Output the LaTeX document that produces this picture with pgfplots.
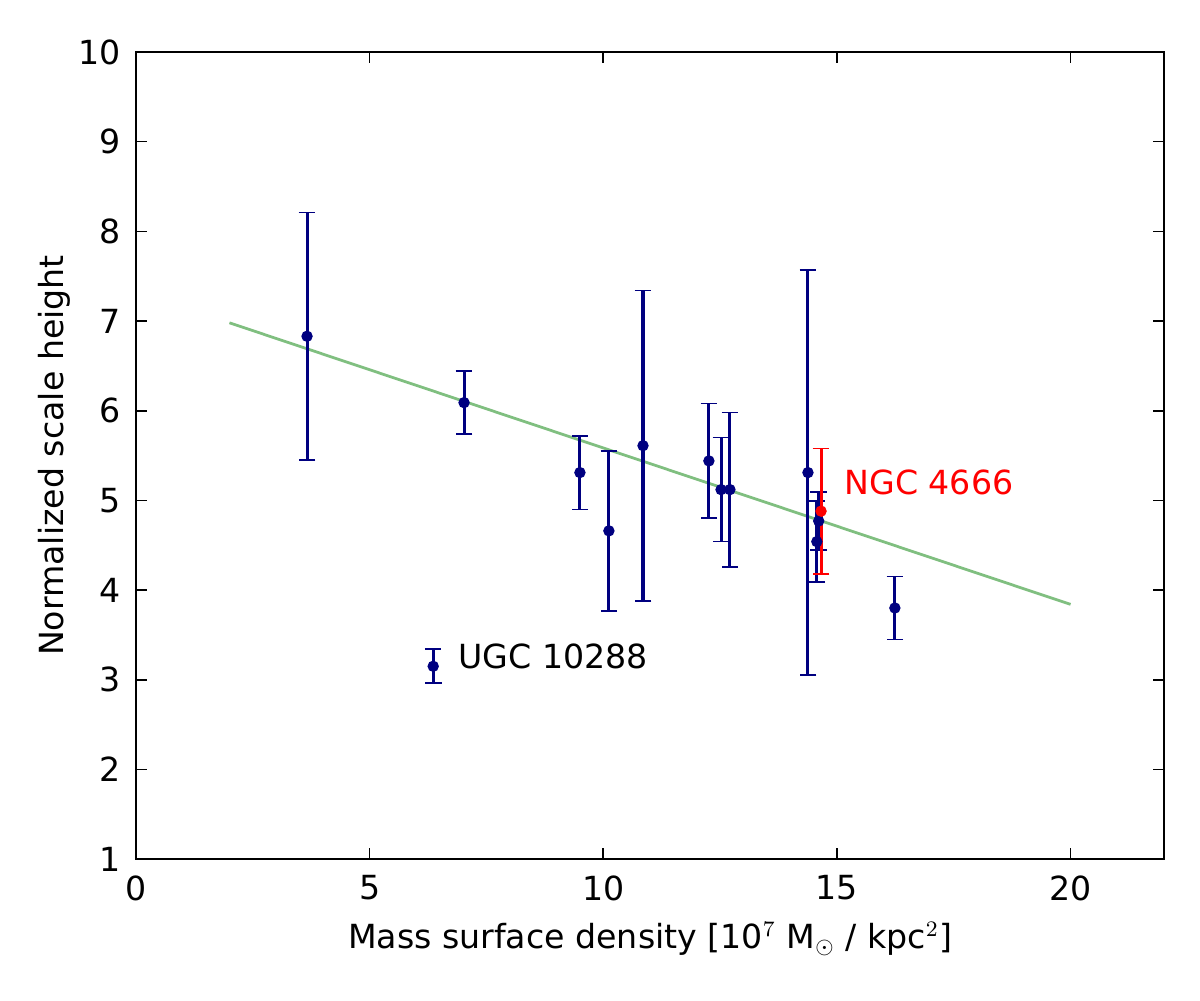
\documentclass[border=0pt]{standalone}
\usepackage{pgfplots}
\pgfplotsset{compat=1.18}
\usepackage{pgfplotstable}
\usepackage{fontspec}
\setmainfont{DejaVu Sans}
\usetikzlibrary{calc}

\definecolor{navyblue}{rgb}{0,0,0.5}
\definecolor{fitgreen}{rgb}{0.5,0.75,0.5}

% Galaxy sample: surface density, normalized scale height, uncertainty
\pgfplotstableread{
x      y     err
3.66   6.83  1.38
7.02   6.09  0.35
9.50   5.31  0.41
10.12  4.66  0.89
10.85  5.61  1.73
12.26  5.44  0.64
12.52  5.12  0.58
12.71  5.12  0.86
14.38  5.31  2.26
14.57  4.54  0.45
14.61  4.77  0.32
16.24  3.80  0.35
6.36   3.15  0.19
}\sample

% NGC 4666
\pgfplotstableread{
x      y     err
14.66  4.88  0.70
}\ngc

\begin{document}
\begin{tikzpicture}
\useasboundingbox (-49.15pt,-50.95pt) rectangle (384.5pt,310.45pt);
\begin{axis}[
  at={(0,0)}, anchor=south west,
  scale only axis, width=371.5pt, height=291.66pt,
  xmin=0, xmax=22, ymin=1, ymax=10,
  xtick={0,5,...,20}, ytick={1,...,10},
  tick align=inside, major tick length=4pt,
  every tick/.style={black, line width=0.6pt},
  axis line style={line width=1pt},
  /pgf/number format/assume math mode=true,
  tick label style={font=\fontsize{12}{14}\selectfont},
  xticklabel style={inner sep=0pt, anchor=north, yshift=-5.8pt},
  yticklabel style={inner sep=0pt, anchor=east, xshift=-5.2pt},
  every axis x label/.style={at={($(axis description cs:0.5,0)+(0,-32.2pt)$)}, anchor=base, inner sep=0pt, font=\fontsize{12}{14}\selectfont},
  every axis y label/.style={at={($(axis description cs:0,0.5)+(-26.2pt,0)$)}, rotate=90, anchor=base, inner sep=0pt, font=\fontsize{12}{14}\selectfont},
  xlabel={Mass surface density [10$^7$ M$_\odot$ / kpc$^2$]},
  ylabel={Normalized scale height},
  clip=false,
]
% linear fit
\addplot[fitgreen, line width=1pt, no marks] coordinates {(2,6.98) (20,3.84)};

\addplot[navyblue, only marks, mark=*, mark size=1.85pt,
  error bars/.cd, y dir=both, y explicit,
  error bar style={line width=1.1pt, navyblue},
  error mark options={rotate=90, mark size=3pt, line width=0.6pt, navyblue}]
  table[x=x, y=y, y error=err] {\sample};

\addplot[red, only marks, mark=*, mark size=1.85pt,
  error bars/.cd, y dir=both, y explicit,
  error bar style={line width=1.1pt, red},
  error mark options={rotate=90, mark size=3pt, line width=0.6pt, red}]
  table[x=x, y=y, y error=err] {\ngc};

\node[anchor=base west, inner sep=0pt, font=\fontsize{12}{14}\selectfont] at (axis cs:6.89,3.13) {UGC 10288};
\node[anchor=base west, inner sep=0pt, text=red, font=\fontsize{12}{14}\selectfont] at (axis cs:15.15,5.07) {NGC 4666};
\end{axis}
\end{tikzpicture}
\end{document}
